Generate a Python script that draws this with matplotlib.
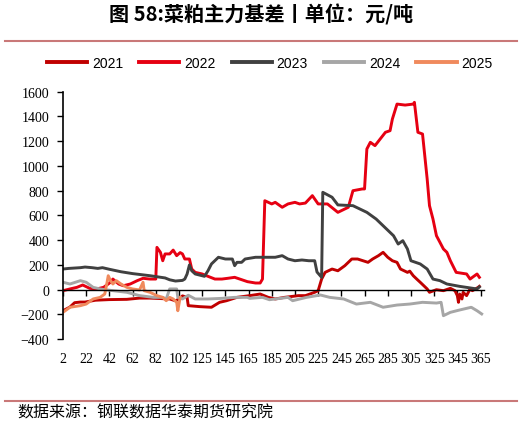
import matplotlib
matplotlib.use("Agg")
import matplotlib.pyplot as plt
from matplotlib.lines import Line2D

# 交易日序号 / 基差 (元/吨)
days_2021 = [0, 6, 10, 15, 19, 28, 40, 55, 66, 75, 85, 92, 97, 101, 103, 107, 108, 118, 128, 135,
             141, 150, 161, 170, 177, 183, 191, 203, 209, 217, 220, 223, 226, 232, 237, 243, 246,
             249, 254, 263, 267, 272, 276, 280, 284, 288, 291, 297, 299, 302, 305, 308, 314, 316,
             322, 328, 334, 338, 340, 341, 342, 344, 345, 348, 351, 353, 358, 359]
basis_2021 = [-170, -140, -105, -100, -100, -85, -80, -78, -68, -68, -72, -75, -90, -70, -50, -62,
              -129, -137, -142, -102, -89, -62, -48, -35, -62, -75, -62, -48, -48, -21, -8, 86, 140,
              167, 153, 194, 221, 248, 248, 221, 248, 275, 302, 262, 234, 221, 167, 140, 150, 113,
              86, 60, 6, -21, 0, -8, 11, -8, -48, -102, -35, -75, -21, -48, 6, -8, 19, 27]

days_2022 = [0, 6, 12, 17, 23, 29, 35, 41, 43, 48, 52, 58, 64, 69, 75, 80, 81, 84, 86, 88, 92, 95,
             98, 101, 103, 105, 109, 111, 114, 120, 125, 131, 137, 142, 148, 154, 159, 166, 170,
             172, 174, 177, 180, 183, 189, 194, 200, 204, 209, 215, 220, 228, 237, 246, 250, 258,
             260, 262, 265, 269, 278, 282, 284, 288, 295, 302, 303, 304, 306, 310, 314, 316, 319,
             322, 325, 328, 331, 334, 339, 348, 351, 353, 357, 359]
basis_2022 = [-8, 6, 19, 38, 11, 6, 19, 60, 86, 46, 32, 46, 73, 92, 86, 86, 342, 302, 234, 289,
              289, 320, 275, 300, 289, 248, 248, 167, 140, 127, 108, 86, 86, 92, 100, 81, 65, 54,
              54, 86, 719, 706, 693, 706, 666, 693, 706, 693, 700, 760, 693, 693, 625, 666, 800,
              814, 814, 1137, 1191, 1164, 1272, 1285, 1379, 1500, 1492, 1500, 1514, 1433, 1272,
              1258, 895, 679, 571, 436, 383, 329, 302, 234, 140, 127, 86, 100, 127, 100]

days_2023 = [0, 5, 10, 15, 19, 25, 30, 34, 40, 50, 60, 75, 88, 92, 97, 103, 105, 107, 109, 111,
             114, 122, 125, 128, 134, 140, 146, 148, 150, 154, 157, 166, 183, 189, 194, 200, 206,
             212, 217, 219, 223, 224, 232, 237, 250, 262, 270, 279, 285, 289, 293, 297, 300, 308,
             314, 319, 325, 331, 342, 357, 359]
basis_2023 = [167, 172, 175, 178, 183, 178, 172, 178, 165, 145, 130, 113, 95, 80, 70, 75, 86, 127,
              200, 153, 127, 108, 153, 208, 262, 248, 248, 194, 221, 221, 248, 262, 262, 275, 248,
              234, 240, 234, 234, 143, 100, 787, 747, 685, 679, 625, 571, 490, 436, 369, 396, 329,
              234, 208, 167, 86, 73, 46, 27, 6, 22]

days_2024 = [0, 6, 15, 20, 26, 32, 43, 55, 66, 78, 86, 89, 92, 98, 99, 103, 108, 114, 125, 137,
             148, 159, 161, 172, 178, 183, 194, 198, 210, 222, 230, 242, 253, 265, 276, 288, 299,
             310, 322, 326, 328, 334, 342, 352, 357, 361]
basis_2024 = [60, 46, 73, 60, 19, 6, -8, -21, -48, -62, -62, -75, 6, 6, -62, -75, -45, -75, -75,
              -70, -62, -62, -70, -62, -81, -75, -62, -89, -62, -43, -62, -75, -116, -102, -142,
              -124, -116, -102, -108, -102, -210, -183, -164, -142, -170, -196]

days_2025 = [0, 6, 15, 20, 26, 32, 36, 38, 39, 41, 43, 46, 50, 55, 60, 66, 69, 70, 75, 81, 86,
             89, 92, 95, 98, 99, 101]
basis_2025 = [-183, -142, -129, -116, -75, -62, -35, 60, 113, 73, 46, 73, 46, 19, 6, -2, 60, -8,
              -21, -48, -62, -89, -62, -75, -102, -170, -62]

tick_pos = list(range(0, 361, 20))
tick_labels = ["2", "22", "42", "62", "82", "102", "125", "145", "165", "185", "205", "225",
               "245", "265", "285", "305", "325", "345", "365"]

years = ["2021", "2022", "2023", "2024", "2025"]
colors = ["#C00000", "#E60012", "#404040", "#A6A6A6", "#F08A5D"]
series = [(days_2021, basis_2021), (days_2022, basis_2022), (days_2023, basis_2023),
          (days_2024, basis_2024), (days_2025, basis_2025)]

fig = plt.figure(figsize=(5.22, 4.27), dpi=100)
ax = fig.add_axes([0.1207, 0.2033, 0.8065, 0.5796])

for (d, v), c, y in zip(series, colors, years):
    ax.plot(d, v, color=c, lw=2.1, label=y, solid_joinstyle="round")

ax.set_xlim(0, 363)
ax.set_ylim(-400, 1600)
ax.set_yticks(range(-400, 1601, 200))
ax.tick_params(axis="y", direction="out", length=4, width=1, pad=6, labelsize=10)
for t in ax.get_yticklabels():
    t.set_family("Liberation Serif")

for s in ["top", "right"]:
    ax.spines[s].set_visible(False)
ax.spines["left"].set_linewidth(1.2)
ax.spines["bottom"].set_position(("data", 0))
ax.spines["bottom"].set_linewidth(1.0)
ax.set_xticks(tick_pos)
ax.tick_params(axis="x", direction="out", length=4, width=1, labelbottom=False)

sec = ax.secondary_xaxis("bottom")
sec.set_xticks(tick_pos, tick_labels)
sec.spines["bottom"].set_visible(False)
sec.tick_params(length=0, pad=9, labelsize=10)
for t in sec.get_xticklabels():
    t.set_family("Liberation Serif")

handles = [Line2D([], [], color=c, lw=2.8) for c in colors]
fig.legend(handles, years, loc="center", bbox_to_anchor=(269.7 / 522, 1 - 64 / 427), ncol=5,
           frameon=False, handlelength=2.9, handletextpad=0.35, columnspacing=1.15,
           borderpad=0, prop={"family": "Liberation Sans", "size": 10})

fig.text(0.5, 1 - 15 / 427, "图 58:菜粕主力基差丨单位：元/吨", ha="center", va="center",
         fontsize=14.5, fontweight="bold", family=["Noto Sans CJK SC", "DejaVu Sans"])
fig.add_artist(Line2D([5 / 522, 517 / 522], [1 - 42 / 427] * 2, color="#C97878", lw=1.5))
fig.add_artist(Line2D([5 / 522, 517 / 522], [1 - 402 / 427] * 2, color="#C97878", lw=1.5))
fig.text(17 / 522, 1 - 413 / 427, "数据来源：钢联数据华泰期货研究院", ha="left", va="center",
         fontsize=11.5, family=["Noto Sans CJK SC", "DejaVu Sans"])

fig.savefig("out.png", dpi=100)
